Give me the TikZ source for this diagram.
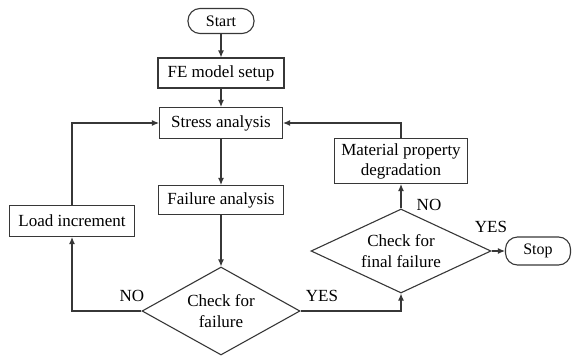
\documentclass[tikz,border=0pt]{standalone}
\usepackage{fontspec}
\setmainfont{Liberation Serif}
\usepackage{xcolor}
\usepackage{tikz}
\usetikzlibrary{arrows.meta,positioning,shapes.geometric}
\definecolor{cinzaescuro}{RGB}{55,55,55}
\tikzset{
  caixa/.style={rectangle,draw=cinzaescuro,line width=1.1pt,inner sep=1pt,
    align=center,font=\fontsize{17}{20}\selectfont},
  terminal/.style={rectangle,rounded corners=12pt,draw=cinzaescuro,line width=1.1pt,
    inner sep=1pt,font=\fontsize{16}{19}\selectfont},
  decisao/.style={diamond,draw=cinzaescuro,line width=1.1pt,inner sep=0pt,
    align=center,font=\fontsize{17}{21}\selectfont},
  rotulo/.style={inner sep=1pt,font=\fontsize{17}{20}\selectfont},
  seta/.style={-{Latex[length=7pt,width=6pt]},line width=1.1pt,cinzaescuro}
}

\begin{document}
\begin{tikzpicture}[x=1pt,y=-1pt]
\useasboundingbox (0,0) rectangle (572,356);
\node[terminal,minimum width=66pt,minimum height=25pt] (inicio) at (221,21) {Start};
\node[caixa,minimum width=126pt,minimum height=30pt] (modelo) at (221,73) {FE model setup};
\node[caixa,minimum width=123pt,minimum height=31pt] (tensao) at (221,123) {Stress analysis};
\node[caixa,minimum width=125pt,minimum height=29pt] (falha) at (221,200) {Failure analysis};
\node[caixa,minimum width=125pt,minimum height=31pt] (carga) at (72,221) {Load increment};
\node[decisao,shape aspect=1.8,minimum width=158pt,minimum height=88pt] (checa) at (221,311) {Check for\\failure};
\node[caixa,minimum width=133pt,minimum height=45pt] (material) at (401,161) {Material property\\degradation};
\node[decisao,shape aspect=2.1,minimum width=180pt,minimum height=84pt] (final) at (401,251) {Check for\\final failure};
\node[terminal,minimum width=65pt,minimum height=28pt] (fim) at (538,251) {Stop};

\draw[seta] (inicio) -- (modelo);
\draw[seta] (modelo) -- (tensao);
\draw[seta] (tensao) -- (falha);
\draw[seta] (falha) -- (checa);
\draw[seta] (checa.west) -| (carga.south);
\draw[seta] (carga.north) |- (tensao.west);
\draw[seta] (checa.east) -| (final.south);
\draw[seta] (final.north) -- (material.south);
\draw[seta] (material.north) |- (tensao.east);
\draw[seta] (final.east) -- (fim.west);

% rotulos das decisoes
\node[rotulo] (nao1) at (132,296) {NO};
\node[rotulo] (sim1) at (322,296) {YES};
\node[rotulo] (nao2) at (429,205) {NO};
\node[rotulo] (sim2) at (491,227) {YES};
\end{tikzpicture}
\end{document}
